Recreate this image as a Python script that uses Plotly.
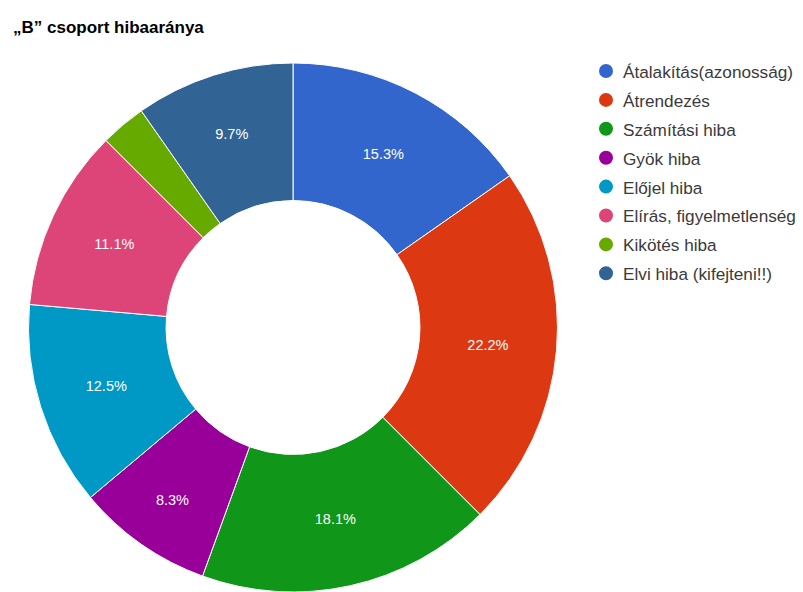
import plotly.graph_objects as go

title = "„B” csoport hibaaránya"
labels = ["Átalakítás(azonosság)", "Átrendezés", "Számítási hiba", "Gyök hiba",
          "Előjel hiba", "Elírás, figyelmetlenség", "Kikötés hiba", "Elvi hiba (kifejteni!!)"]
values = [11, 16, 13, 6, 9, 8, 2, 7]
colors = ["#3366cc", "#dc3912", "#109618", "#990099", "#0099c6", "#dd4477", "#66aa00", "#316395"]

W, H = 803, 592
FONT = "Liberation Sans, Arial"
total = sum(values)
texts = [f"{v / total * 100:.1f}%" if v / total >= 0.05 else "" for v in values]

fig = go.Figure()
fig.add_trace(go.Pie(
    labels=labels, values=values, text=texts, textinfo="text",
    textposition="inside", insidetextorientation="horizontal",
    sort=False, direction="clockwise", rotation=0, hole=0.48,
    marker=dict(colors=colors, line=dict(color="white", width=1)),
    textfont=dict(family=FONT, size=14.5, color="white"),
    domain=dict(x=[28 / W, 558 / W], y=[0, 1 - 63 / H]),
    showlegend=False, hoverinfo="label+percent",
))

annotations = [dict(text="<b>" + title + "</b>", x=11 / W, y=1 - 27 / H, xref="paper", yref="paper",
                    xanchor="left", yanchor="middle", showarrow=False,
                    font=dict(family=FONT, size=17, color="#000"))]
shapes = []
top, step = 71, 28.9
for i, (lab, col) in enumerate(zip(labels, colors)):
    yc = top + i * step
    shapes.append(dict(type="circle", xref="paper", yref="paper",
                       x0=(606 - 7) / W, x1=(606 + 7) / W,
                       y0=1 - (yc + 7) / H, y1=1 - (yc - 7) / H,
                       fillcolor=col, line=dict(width=0)))
    annotations.append(dict(text=lab, x=621 / W, y=1 - (yc + 1) / H, xref="paper", yref="paper",
                            xanchor="left", yanchor="middle", showarrow=False,
                            font=dict(family=FONT, size=17.2, color="#3a3a3a")))

fig.update_layout(width=W, height=H, margin=dict(l=0, r=0, t=0, b=0),
                  paper_bgcolor="white", plot_bgcolor="white",
                  annotations=annotations, shapes=shapes)
fig.write_html("out.html")
